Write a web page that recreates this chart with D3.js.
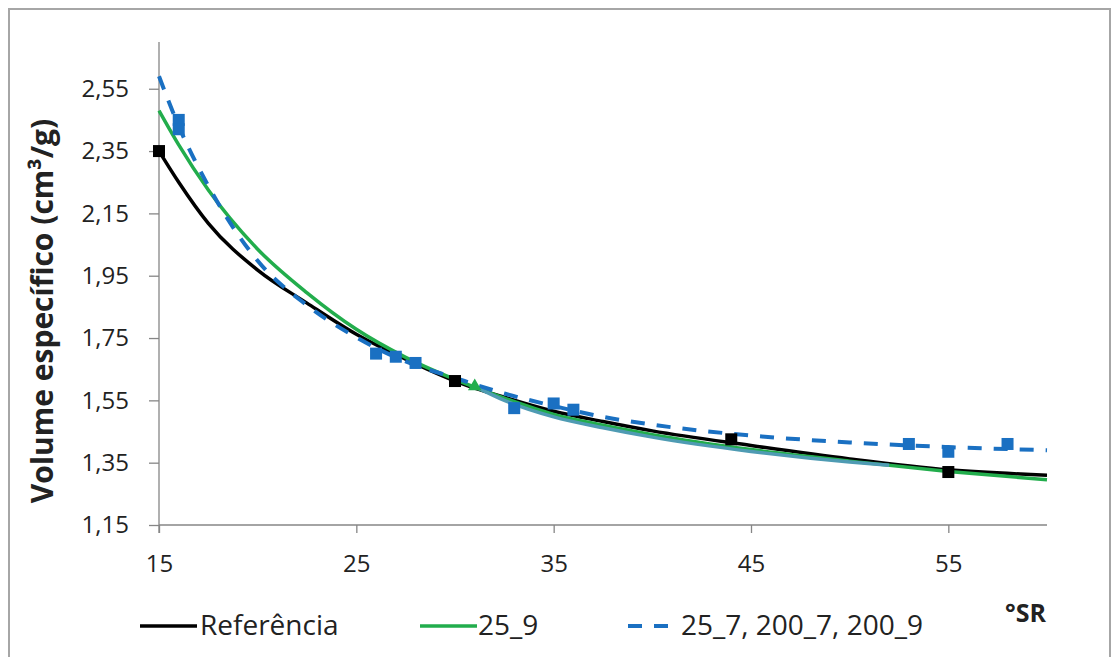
<!DOCTYPE html>
<html><head><meta charset="utf-8">
<script src="https://cdn.jsdelivr.net/npm/d3@7"></script>
<style>
html,body{margin:0;padding:0;background:#fff;}
svg{display:block;}
text{font-family:"Open Sans",sans-serif;fill:#222;}
</style></head>
<body><svg id="c" width="1117" height="657"></svg>
<script>
// ---- data ----
const xTicks = [15, 25, 35, 45, 55];
const yTicks = [1.15, 1.35, 1.55, 1.75, 1.95, 2.15, 2.35, 2.55];

const curveX = [15, 16, 17.5, 20, 22.5, 25, 27.5, 30, 32.5, 35, 37.5, 40, 45, 50, 55, 60];
const refCurve = [2.35, 2.25, 2.118, 1.968, 1.862, 1.762, 1.682, 1.612, 1.56, 1.515, 1.482, 1.452, 1.405, 1.362, 1.327, 1.31];
const g259Curve = [2.48, 2.37, 2.225, 2.035, 1.895, 1.778, 1.688, 1.617, 1.557, 1.505, 1.47, 1.44, 1.392, 1.355, 1.322, 1.295];
const blueCurve = [2.59, 2.43, 2.238, 1.998, 1.855, 1.752, 1.675, 1.622, 1.572, 1.532, 1.497, 1.472, 1.437, 1.415, 1.4, 1.39];

const tealX = [31, 32.5, 35, 37.5, 40, 45, 50, 52];
const tealCurve = [1.595, 1.55, 1.497, 1.462, 1.432, 1.386, 1.352, 1.342];

const refPtsX = [15, 30, 44, 55];
const refPtsY = [2.35, 1.612, 1.425, 1.32];
const g259PtsX = [31];
const g259PtsY = [1.595];
const bluePtsX = [16, 16, 26, 27, 28, 33, 35, 36, 53, 55, 58];
const bluePtsY = [2.45, 2.42, 1.70, 1.69, 1.67, 1.525, 1.54, 1.52, 1.41, 1.385, 1.41];

const legendLabels = ["Referência", "25_9", "25_7, 200_7, 200_9"];

// ---- drawing ----
const svg = d3.select("#c");
const colBlack = "#000000", colGreen = "#22ad4c", colBlue = "#1a70c2", colTeal = "#4f9bb3";

svg.append("rect").attr("x", 9).attr("y", 9).attr("width", 1101).attr("height", 660)
  .attr("fill", "#fff").attr("stroke", "#a6a6a6").attr("stroke-width", 2);

const x = d3.scaleLinear().domain([15, 60]).range([159, 1047]);
const y = d3.scaleLinear().domain([1.15, 2.70]).range([525, 42]);

// axes
const axisCol = "#868686";
const yAxis = svg.append("g").attr("transform", `translate(${x(15)},0)`)
  .call(d3.axisLeft(y).tickValues(yTicks).tickSize(10).tickPadding(20)
    .tickFormat(d => d3.format(".2f")(d).replace(".", ",")));
const xAxis = svg.append("g").attr("transform", `translate(0,${y(1.15)})`)
  .call(d3.axisBottom(x).tickValues(xTicks).tickSize(8).tickPadding(22));
[xAxis, yAxis].forEach(a => {
  a.select(".domain").attr("stroke", axisCol).attr("stroke-width", 1.3);
  a.selectAll(".tick line").attr("stroke", axisCol).attr("stroke-width", 1.3);
  a.selectAll(".tick text").attr("font-family", "'Open Sans',sans-serif")
    .attr("font-size", 24).attr("fill", "#222");
});
yAxis.select(".domain").attr("d", `M0,${y(2.70)}V${y(1.15)}`);
xAxis.select(".domain").attr("d", `M${x(15)},0H${x(60)}`);
yAxis.append("line").attr("x1", 0).attr("x2", 0).attr("y1", y(1.15)).attr("y2", y(1.15) + 8)
  .attr("stroke", axisCol).attr("stroke-width", 1.3);

const line = d3.line().curve(d3.curveMonotoneX);

function curve(xs, ys, color, width, dash) {
  const p = svg.append("path").attr("d", line(xs.map((v, i) => [x(v), y(ys[i])])))
    .attr("fill", "none").attr("stroke", color).attr("stroke-width", width)
    .attr("stroke-linecap", "butt");
  if (dash) p.attr("stroke-dasharray", dash);
}

curve(curveX, refCurve, colBlack, 3.5);
curve(curveX, g259Curve, colGreen, 3.5);
curve(tealX, tealCurve, colTeal, 3.5);
curve(curveX, blueCurve, colBlue, 4, "14,12");

// markers
const sq = 12;
svg.selectAll(".bsq").data(bluePtsX).enter().append("rect")
  .attr("x", (d) => x(d) - sq / 2).attr("y", (d, i) => y(bluePtsY[i]) - sq / 2)
  .attr("width", sq).attr("height", sq).attr("fill", colBlue);
svg.selectAll(".ksq").data(refPtsX).enter().append("rect")
  .attr("x", (d) => x(d) - sq / 2).attr("y", (d, i) => y(refPtsY[i]) - sq / 2)
  .attr("width", sq).attr("height", sq).attr("fill", colBlack);
svg.selectAll(".gtri").data(g259PtsX).enter().append("path")
  .attr("d", d3.symbol().type(d3.symbolTriangle).size(80))
  .attr("transform", (d, i) => `translate(${x(d)},${y(g259PtsY[i])})`)
  .attr("fill", colGreen);

// y axis title
svg.append("text").attr("transform", "translate(53,311) rotate(-90)")
  .attr("text-anchor", "middle").attr("font-weight", "bold").attr("font-size", 30)
  .attr("fill", "#111")
  .text("Volume específico (cm³/g)");

// x axis title
svg.append("text").attr("x", 1046).attr("y", 622).attr("text-anchor", "end")
  .attr("font-weight", "bold").attr("font-size", 25).attr("fill", "#111").text("°SR");

// legend
const legend = [
  {x1: 140, x2: 197, tx: 200, color: colBlack, dash: null, w: 3.5},
  {x1: 420, x2: 477, tx: 478, color: colGreen, dash: null, w: 3.5},
  {x1: 628, x2: 672, tx: 681, color: colBlue, dash: "14,12", w: 4}
];
legend.forEach((l, i) => {
  const ln = svg.append("line").attr("x1", l.x1).attr("x2", l.x2).attr("y1", 626).attr("y2", 626)
    .attr("stroke", l.color).attr("stroke-width", l.w);
  if (l.dash) ln.attr("stroke-dasharray", l.dash);
  svg.append("text").attr("x", l.tx).attr("y", 635).attr("font-size", 28).attr("fill", "#222")
    .text(legendLabels[i]);
});
</script></body></html>
